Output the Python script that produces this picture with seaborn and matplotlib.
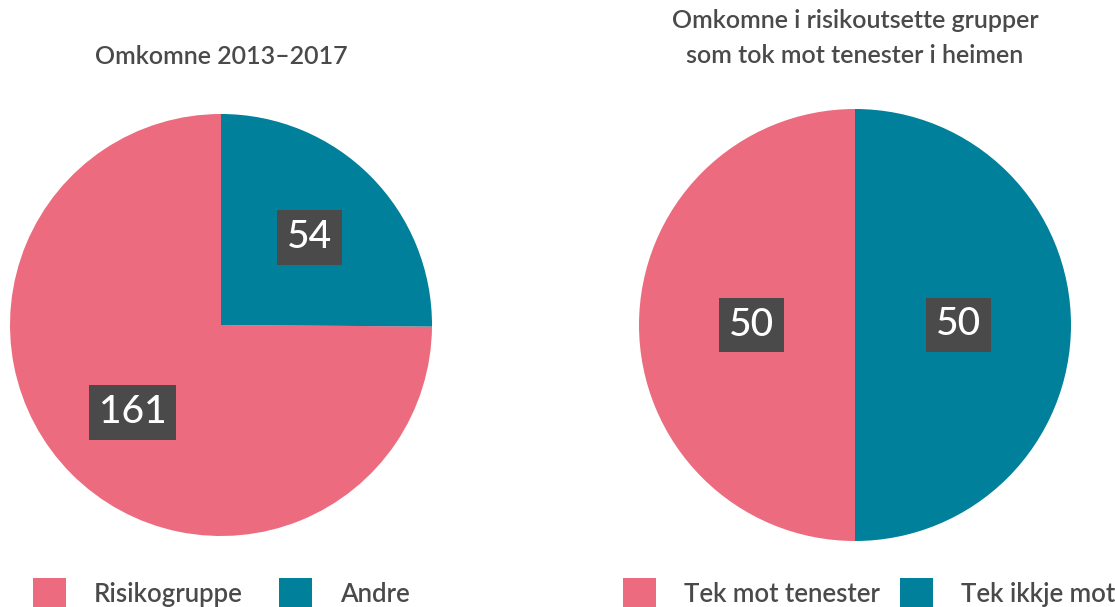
import matplotlib
matplotlib.use("Agg")
import matplotlib.pyplot as plt
import seaborn as sns
from matplotlib.patches import Patch

sns.set_theme(style="white")
plt.rcParams['font.family'] = ['Lato', 'DejaVu Sans']

# Data
left_labels = ["Risikogruppe", "Andre"]
left_values = [161, 54]
right_labels = ["Tek mot tenester", "Tek ikkje mot tenester"]
right_values = [50, 50]
left_title = "Omkomne 2013–2017"
right_title = "Omkomne i risikoutsette grupper\nsom tok mot tenester i heimen"

PINK = "#EC6B7E"
TEAL = "#00809A"
DARK = "#4A4A4A"
colors = [PINK, TEAL]

W, H = 1115, 607
fig = plt.figure(figsize=(W / 100, H / 100), dpi=100)
fig.patch.set_facecolor("white")


def make_ax(cx, cy, r):
    return fig.add_axes([(cx - r) / W, (H - cy - r) / H, 2 * r / W, 2 * r / H])


def draw(ax, values, pctdist):
    total = sum(values)
    wedges, texts, autotexts = ax.pie(
        values, colors=colors, startangle=90, counterclock=True,
        radius=1, pctdistance=pctdist,
        autopct=lambda p: f"{round(p * total / 100):d}",
        wedgeprops=dict(linewidth=0),
        textprops=dict(color="white", fontsize=28, fontweight="medium"),
    )
    for t in autotexts:
        t.set_bbox(dict(boxstyle="square,pad=0.25", facecolor=DARK, edgecolor="none"))
    ax.set_xlim(-1, 1)
    ax.set_ylim(-1, 1)
    ax.set_aspect("equal")
    ax.axis("off")


ax1 = make_ax(221, 325, 211)
draw(ax1, left_values, 0.59)
ax2 = make_ax(855, 325, 216)
draw(ax2, right_values, 0.48)

fig.text(221 / W, 1 - 57 / H, left_title, ha="center", va="center",
         fontsize=18, color=DARK, fontweight="semibold")
fig.text(855 / W, 1 - 38 / H, right_title, ha="center", va="center",
         fontsize=18, color=DARK, linespacing=1.6, fontweight="semibold")

# Legends (cut off at bottom edge, as in reference)
def legend(labels, x, colspace):
    handles = [Patch(facecolor=c, edgecolor="none") for c in colors]
    lg = fig.legend(handles, labels, loc="upper left",
                    bbox_to_anchor=(x / W, 1 - 578 / H), ncol=2, frameon=False,
                    prop=dict(size=18.5, weight="semibold"),
                    handlelength=1.28, handleheight=1.45,
                    handletextpad=1.1, columnspacing=colspace, borderaxespad=0,
                    borderpad=0)
    for t in lg.get_texts():
        t.set_color(DARK)
    return lg

legend(left_labels, 33, 1.4)
legend(right_labels, 623, 0.78)

fig.savefig("out.png", dpi=100, facecolor="white")
